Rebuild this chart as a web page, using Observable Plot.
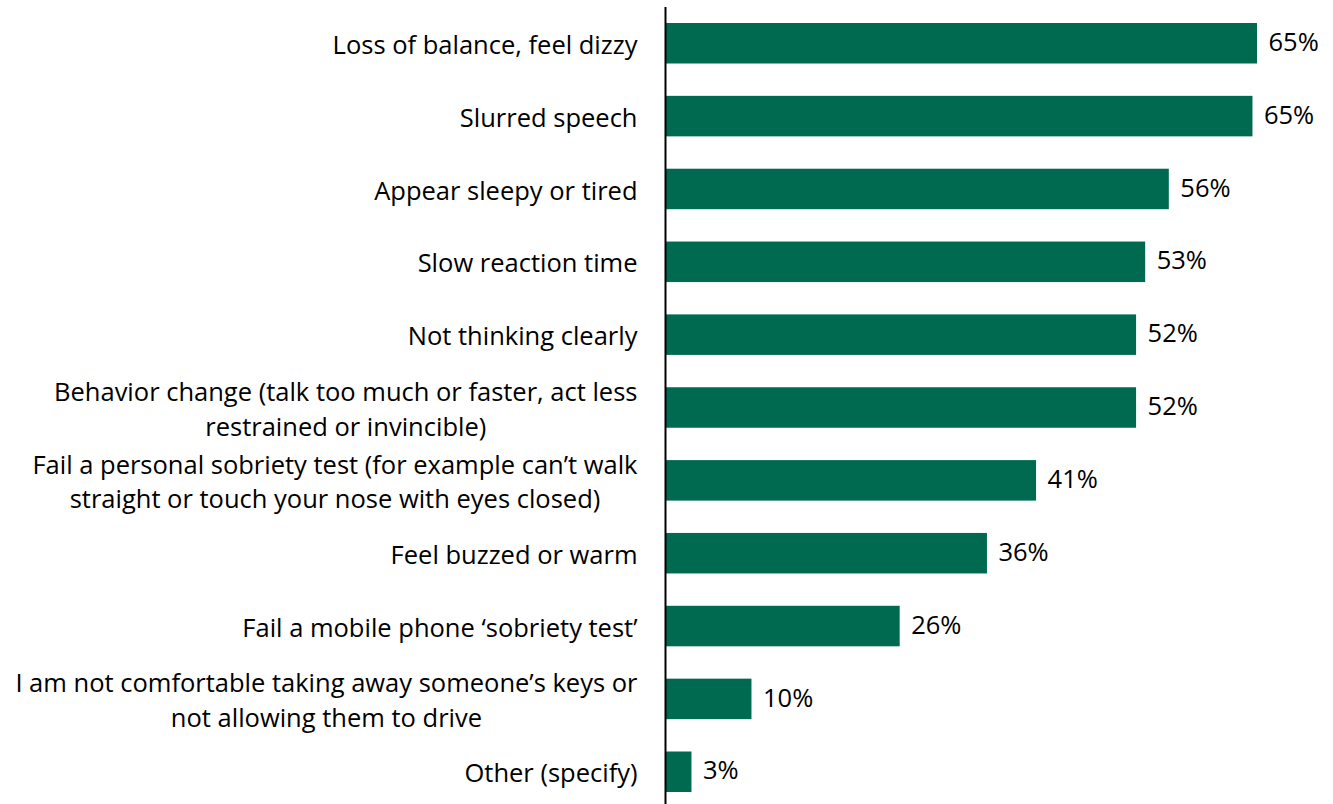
<!DOCTYPE html>
<html>
<head>
<meta charset="utf-8">
<script src="https://cdn.jsdelivr.net/npm/d3@7"></script>
<script src="https://cdn.jsdelivr.net/npm/@observablehq/plot@0.6"></script>
<style>
  html, body { margin: 0; padding: 0; background: #ffffff; }
  #chart { width: 1333px; height: 804px; overflow: hidden; }
</style>
</head>
<body>
<div id="chart"></div>
<script>
const categories = [
  "Loss of balance, feel dizzy",
  "Slurred speech",
  "Appear sleepy or tired",
  "Slow reaction time",
  "Not thinking clearly",
  "Behavior change (talk too much or faster, act less\nrestrained or invincible)",
  "Fail a personal sobriety test (for example can\u2019t walk\nstraight or touch your nose with eyes closed)",
  "Feel buzzed or warm",
  "Fail a mobile phone \u2018sobriety test\u2019",
  "I am not comfortable taking away someone\u2019s keys or\nnot allowing them to drive",
  "Other (specify)"
];
const values = [65.0, 64.5, 55.3, 52.7, 51.7, 51.7, 40.7, 35.3, 25.7, 9.4, 2.8];
const valueLabels = ["65%", "65%", "56%", "53%", "52%", "52%", "41%", "36%", "26%", "10%", "3%"];

const data = categories.map((c, i) => ({category: c, value: values[i], label: valueLabels[i]}));

const barColor = "#006A50";
const font = "'Open Sans', Lato, sans-serif";
const fs = 25.5;

const plot = Plot.plot({
  width: 1333,
  height: 804,
  marginLeft: 666,
  marginRight: 76,
  marginTop: 23,
  marginBottom: 12,
  style: {fontFamily: font, fontSize: fs + "px", color: "#000", background: "#fff"},
  x: {domain: [0, 65], axis: null},
  y: {domain: categories, paddingInner: 0.444, paddingOuter: 0, round: false, label: null},
  marks: [
    Plot.barX(data, {x: "value", y: "category", fill: barColor}),
    Plot.text(data, {x: "value", y: "category", text: "label", textAnchor: "start", dx: 11, dy: -1, fill: "#000", fontSize: fs}),
    Plot.axisY({tickSize: 0, tickPadding: 29, dy: -1, label: null, lineHeight: 1.37, fontSize: fs, fill: "#000"}),
    Plot.ruleX([0], {stroke: "#000", strokeWidth: 2, dx: -1, insetTop: -16, insetBottom: -12})
  ]
});

document.getElementById("chart").appendChild(plot);

// Center the lines of multi-line category labels within their right-aligned block
plot.querySelectorAll("text").forEach(t => {
  const spans = t.querySelectorAll("tspan");
  if (spans.length > 1) {
    const w = Math.max(...Array.from(spans, s => s.getComputedTextLength()));
    t.setAttribute("text-anchor", "middle");
    spans.forEach(s => {
      const x0 = +(s.getAttribute("x") || 0);
      s.setAttribute("x", x0 - w / 2);
    });
  }
});
</script>
</body>
</html>
